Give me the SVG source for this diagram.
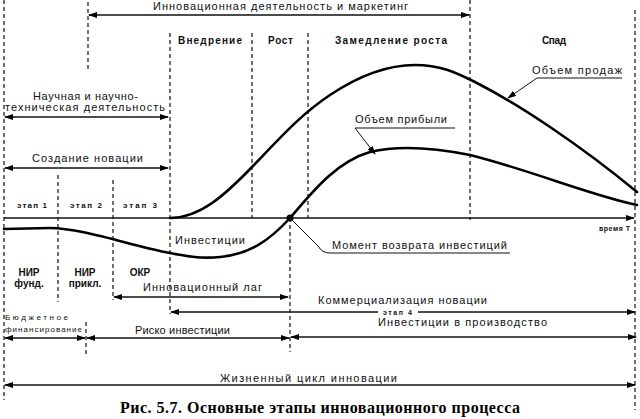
<svg xmlns="http://www.w3.org/2000/svg" width="640" height="419" viewBox="0 0 640 419">
<defs>
<marker id="ae" markerWidth="9" markerHeight="6" refX="8" refY="3" orient="auto" markerUnits="userSpaceOnUse"><path d="M0,0 L9,3 L0,6 z" fill="#000"/></marker>
<marker id="as" markerWidth="9" markerHeight="6" refX="1" refY="3" orient="auto" markerUnits="userSpaceOnUse"><path d="M9,0 L0,3 L9,6 z" fill="#000"/></marker>
<style>
.t{font-family:"Liberation Sans",Arial,sans-serif;font-size:11px;fill:#111}
.s{font-family:"Liberation Sans",Arial,sans-serif;font-size:8px;font-weight:bold;fill:#111}
.p{font-family:"Liberation Sans",Arial,sans-serif;font-size:10px;font-weight:bold;fill:#111}
.b{font-family:"Liberation Sans",Arial,sans-serif;font-size:10px;font-weight:bold;fill:#111}
.d{stroke:#111;stroke-width:1.2;stroke-dasharray:4 3;fill:none}
.a{stroke:#111;stroke-width:1.4;fill:none}
.c{stroke:#000;stroke-width:2.6;fill:none;stroke-linecap:round}
.l{stroke:#111;stroke-width:1;fill:none}
.cap{font-family:"Liberation Serif","Times New Roman",serif;font-size:16px;font-weight:bold;fill:#000}
</style>
</defs>
<rect width="640" height="419" fill="#fff"/>

<g id="connectors">
<line class="d" x1="4" y1="0" x2="4" y2="400"/>
<line class="d" x1="88" y1="2" x2="88" y2="72"/>
<line class="d" x1="170" y1="33" x2="170" y2="314"/>
<line class="d" x1="252" y1="33" x2="252" y2="218"/>
<line class="d" x1="308" y1="33" x2="308" y2="218"/>
<line class="d" x1="470" y1="0" x2="470" y2="220"/>
<line class="d" x1="635" y1="10" x2="635" y2="410"/>
<line class="d" x1="58" y1="175" x2="58" y2="302"/>
<line class="d" x1="113" y1="180" x2="113" y2="300"/>
<line class="d" x1="290" y1="218" x2="290" y2="352"/>
<line class="d" x1="86" y1="322" x2="86" y2="355"/>

<line class="a" x1="89" y1="15" x2="469" y2="15" marker-start="url(#as)" marker-end="url(#ae)"/>
<line class="a" x1="5" y1="117" x2="168" y2="117" marker-start="url(#as)" marker-end="url(#ae)"/>
<line class="a" x1="5" y1="168" x2="168" y2="168" marker-start="url(#as)" marker-end="url(#ae)"/>
<line class="a" x1="4" y1="218" x2="634" y2="218" marker-end="url(#ae)"/>
<line class="a" x1="114" y1="297" x2="288" y2="297" marker-start="url(#as)" marker-end="url(#ae)"/>
<line class="a" x1="171" y1="312" x2="378" y2="312" marker-start="url(#as)"/>
<line class="a" x1="418" y1="312" x2="635" y2="312" marker-end="url(#ae)"/>
<line class="a" x1="5" y1="338" x2="85" y2="338" marker-start="url(#as)" marker-end="url(#ae)"/>
<line class="a" x1="87" y1="338" x2="289" y2="338" marker-start="url(#as)" marker-end="url(#ae)"/>
<line class="a" x1="291" y1="337" x2="636" y2="337" marker-start="url(#as)" marker-end="url(#ae)"/>
<line class="a" x1="5" y1="385" x2="635" y2="385" marker-start="url(#as)" marker-end="url(#ae)"/>

<path class="c" d="M170,218 C200,218 225,195 252,167 C280,138 300,115 330,95 C360,75 390,65 415,65 C440,65 455,72 475,82 C520,105 580,145 637,192"/>
<path class="c" d="M290,218 C310,195 335,162 370,152 C395,146 430,147 470,155 C530,170 590,195 637,205"/>
<path class="c" d="M4,229 L50,228 C80,228 130,245 165,252 C185,256 200,259 220,257 C250,254 270,240 290,218"/>
<circle cx="290" cy="218" r="3.5" fill="#000"/>

<path class="l" d="M622,78 L537,78 L508,98" marker-end="url(#ae)"/>
<path class="l" d="M455,128 L355,128 L375,154" marker-end="url(#ae)"/>
<path class="l" d="M510,253 L330,253 Q322,253 318,246 L292,220"/>
</g>

<g id="top-label"><text class="t" x="153" y="10" textLength="255">Инновационная деятельность и маркетинг</text></g>
<g id="phases">
<text class="p" x="178" y="44" textLength="64">Внедрение</text>
<text class="p" x="268" y="44" textLength="25">Рост</text>
<text class="p" x="335" y="44" textLength="112">Замедление роста</text>
<text class="p" x="542" y="44" textLength="24">Спад</text>
</g>
<g id="science"><text class="t" x="33" y="100" textLength="105">Научная и научно-</text><text class="t" x="5" y="111" textLength="160">техническая деятельность</text></g>
<g id="creation"><text class="t" x="32" y="162" textLength="111">Создание новации</text></g>
<g id="stages">
<text class="s" x="17" y="208" textLength="30">этап 1</text>
<text class="s" x="70" y="208" textLength="32">этап 2</text>
<text class="s" x="123" y="208" textLength="34">этап 3</text>
</g>
<g id="sales"><text class="t" x="532" y="74" textLength="90">Объем продаж</text></g>
<g id="profit"><text class="t" x="355" y="123" textLength="92">Объем прибыли</text></g>
<g id="invest"><text class="t" x="175" y="244" textLength="70">Инвестиции</text></g>
<g id="return"><text class="t" x="332" y="249" textLength="175">Момент возврата инвестиций</text></g>
<g id="time"><text class="s" x="599" y="231" textLength="31" style="font-size:7px">время Т</text></g>
<g id="nir">
<text class="b" x="29" y="276" text-anchor="middle">НИР</text>
<text class="b" x="29" y="287" text-anchor="middle">фунд.</text>
<text class="b" x="85" y="276" text-anchor="middle">НИР</text>
<text class="b" x="85" y="287" text-anchor="middle">прикл.</text>
<text class="b" x="140" y="276" text-anchor="middle">ОКР</text>
</g>
<g id="lag"><text class="t" x="143" y="291" textLength="119">Инновационный лаг</text></g>
<g id="commerce"><text class="t" x="318" y="304" textLength="169">Коммерциализация новации</text><text class="s" x="383" y="315" textLength="29" style="font-size:7px">этап 4</text></g>
<g id="budget"><text class="t" x="5" y="320" textLength="63" style="font-size:8px">Бюджетное</text><text class="t" x="5" y="332" textLength="77" style="font-size:8px">финансирование</text></g>
<g id="risk"><text class="t" x="135" y="334" textLength="95">Риско инвестиции</text></g>
<g id="production"><text class="t" x="378" y="326" textLength="169">Инвестиции в производство</text></g>
<g id="lifecycle"><text class="t" x="220" y="382" textLength="177">Жизненный цикл инновации</text></g>
<g id="caption"><text class="cap" x="320" y="413" text-anchor="middle" textLength="400">Рис. 5.7. Основные этапы инновационного процесса</text></g>
</svg>
